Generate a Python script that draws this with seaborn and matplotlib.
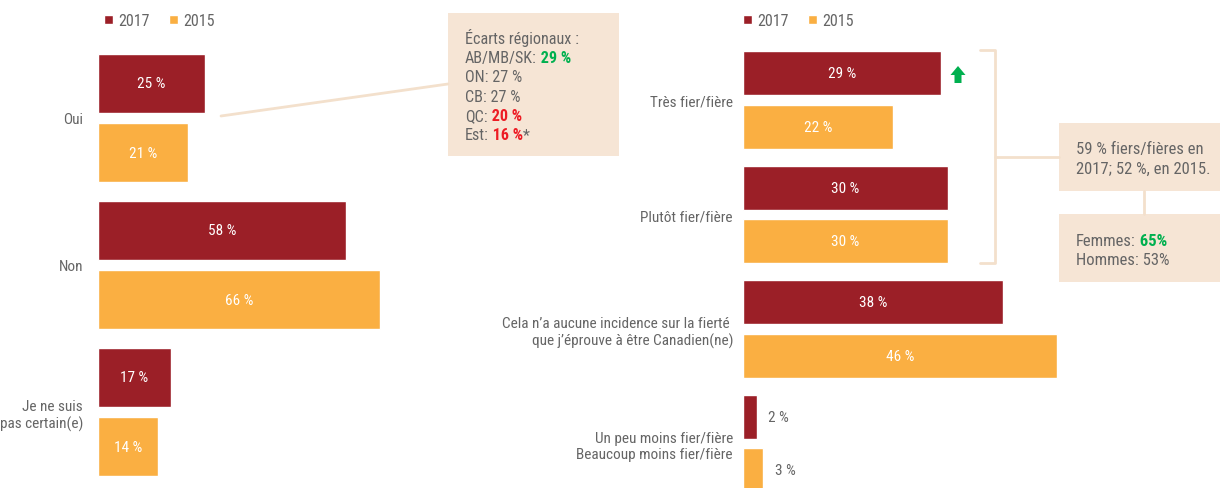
import pandas as pd
import seaborn as sns
import matplotlib.pyplot as plt
from matplotlib.patches import Rectangle, Polygon

years = ['2017', '2015']

cats_left = ['Oui', 'Non', 'Je ne suis\npas certain(e)']
left_2017 = [25, 58, 17]
left_2015 = [21, 66, 14]

cats_right = ['Très fier/fière', 'Plutôt fier/fière',
              'Cela n’a aucune incidence sur la fierté \nque j’éprouve à être Canadien(ne)',
              'Un peu moins fier/fière\nBeaucoup moins fier/fière']
right_2017 = [29, 30, 38, 2]
right_2015 = [22, 30, 46, 3]

red = '#9B1F27'
orange = '#FAAF42'
grey = '#656565'
beige = '#F6E5D5'
line_beige = '#F3E0CC'
green = '#00B04F'
alert = '#ED1C24'

sns.set_style('white')
plt.rcParams['font.family'] = 'sans-serif'
plt.rcParams['font.sans-serif'] = ['Liberation Sans Narrow', 'Roboto Condensed', 'DejaVu Sans']
fs = 11

df_left = pd.DataFrame({'cat': cats_left * 2, 'val': left_2017 + left_2015,
                        'year': ['2017'] * 3 + ['2015'] * 3})
df_right = pd.DataFrame({'cat': cats_right * 2, 'val': right_2017 + right_2015,
                         'year': ['2017'] * 4 + ['2015'] * 4})

fig = plt.figure(figsize=(12.2, 4.89), dpi=100)

ax1 = fig.add_axes([98 / 1220, 0, 322 / 1220, 1])
ax2 = fig.add_axes([743 / 1220, 0, 477 / 1220, 1])

sns.barplot(data=df_left, x='val', y='cat', hue='year', hue_order=years, order=cats_left,
            palette=[red, orange], orient='h', width=0.939, gap=0.145, saturation=1,
            errorbar=None, ax=ax1)
sns.barplot(data=df_right, x='val', y='cat', hue='year', hue_order=years, order=cats_right,
            palette=[red, orange], orient='h', width=0.943, gap=0.185, saturation=1,
            errorbar=None, ax=ax2)

ax1.set_xlim(0, 322 / 4.28)
ax1.set_ylim((489 - 119) / 147, -119 / 147)
ax2.set_xlim(0, 477 / 6.83)
ax2.set_ylim((489 - 101) / 114.5, -101 / 114.5)

for ax, pad, lx in [(ax1, 10.8, 104), (ax2, 7.2, 743)]:
    sns.despine(ax=ax, left=True, bottom=True)
    ax.patch.set_visible(False)
    ax.set_xlabel('')
    ax.set_ylabel('')
    ax.set_xticks([])
    ax.tick_params(axis='y', length=0, pad=pad, labelsize=fs, labelcolor=grey)
    for cont in ax.containers:
        vals = cont.datavalues
        ax.bar_label(cont, labels=[f'{v:.0f} %' if v >= 10 else '' for v in vals],
                     label_type='center', color='white', fontsize=fs)
        ax.bar_label(cont, labels=[f'{v:.0f} %' if v < 10 else '' for v in vals],
                     padding=8, color=grey, fontsize=fs)
    h, l = ax.get_legend_handles_labels()
    ax.legend(h, l, loc='upper left', bbox_to_anchor=(lx / 1220, 1 - 14 / 489),
              bbox_transform=fig.transFigure, ncol=2, frameon=False, borderpad=0,
              borderaxespad=0, handlelength=0.55, handleheight=0.55, handletextpad=0.35,
              columnspacing=1.2, fontsize=fs + 0.5, labelcolor=grey)

# overlay in pixel coordinates for callouts
ov = fig.add_axes([0, 0, 1, 1], zorder=5)
ov.set_xlim(0, 1220)
ov.set_ylim(489, 0)
ov.axis('off')

ov.plot([221, 448], [117, 85], color=line_beige, lw=2, solid_capstyle='round')
ov.add_patch(Rectangle((448, 14), 171, 143, color=beige, lw=0))
ov.add_patch(Rectangle((1059, 124), 161, 68, color=beige, lw=0))
ov.add_patch(Rectangle((1059, 215), 161, 68, color=beige, lw=0))
ov.plot([980, 995, 995, 980], [51, 51, 264, 264], color=line_beige, lw=2)
ov.plot([995, 1059], [158, 158], color=line_beige, lw=2)
ov.plot([1144, 1144], [192, 215], color=line_beige, lw=2)

ov.add_patch(Polygon([(958, 67), (965.5, 76), (961.5, 76), (961.5, 84), (954.5, 84),
                      (954.5, 76), (950.5, 76)], closed=True, color=green, lw=0))


def rich(x, y, parts, size):
    s, c, w = parts[0]
    t = ov.text(x, y, s, color=c, fontweight=w, fontsize=size, va='baseline', ha='left')
    for s, c, w in parts[1:]:
        t = ov.annotate(s, xy=(1, 0), xycoords=t, va='bottom', ha='left',
                        color=c, fontweight=w, fontsize=size)


b1 = 11.6
rich(465, 44, [('Écarts régionaux :', grey, 'normal')], b1)
rich(465, 63, [('AB/MB/SK:', grey, 'normal'), (' 29 %', green, 'bold')], b1)
rich(465, 82, [('ON: 27 %', grey, 'normal')], b1)
rich(465, 102, [('CB: 27 %', grey, 'normal')], b1)
rich(465, 121, [('QC:', grey, 'normal'), (' 20 %', alert, 'bold')], b1)
rich(465, 140, [('Est:', grey, 'normal'), (' 16 %', alert, 'bold'), ('*', grey, 'normal')], b1)

b2 = 12
rich(1076, 154, [('59 % fiers/fières en', grey, 'normal')], b2)
rich(1076, 174, [('2017; 52 %, en 2015.', grey, 'normal')], b2)
rich(1076, 246, [('Femmes:', grey, 'normal'), (' 65%', green, 'bold')], b2)
rich(1076, 265, [('Hommes: 53%', grey, 'normal')], b2)

fig.savefig('out.png', dpi=100)
